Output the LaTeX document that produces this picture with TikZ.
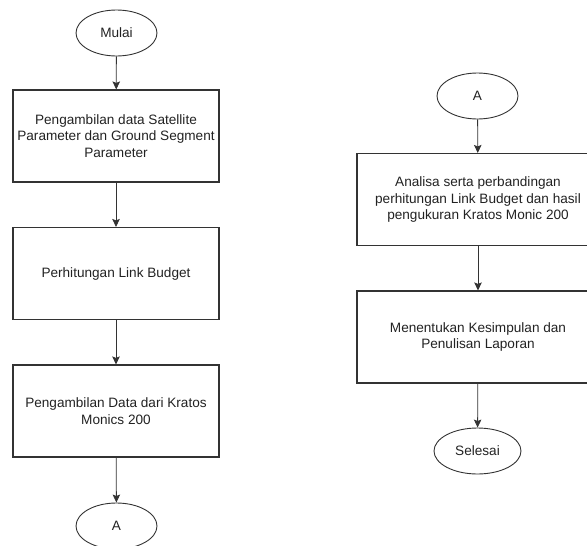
\documentclass[tikz,border=0pt]{standalone}
\usepackage{fontspec}
\setmainfont{Liberation Sans}
\usetikzlibrary{shapes.geometric,arrows.meta}
\definecolor{garis}{HTML}{333333}
\definecolor{teks}{HTML}{222222}
\tikzset{
    proses/.style={draw=garis, line width=1.1pt, rectangle, minimum width=206pt, minimum height=92pt,
        inner sep=0pt, align=center, text=teks, font=\fontsize{13.6}{16.5}\selectfont},
    terminal/.style={draw=garis, line width=0.9pt, ellipse, minimum width=81pt, minimum height=46pt,
        inner sep=0pt, text=teks, font=\fontsize{13.6}{16.5}\selectfont},
    alur/.style={draw=garis, line width=0.8pt, -{Stealth[length=8pt, width=7.5pt, inset=1.5pt]}}
}
\begin{document}
\begin{tikzpicture}[x=1pt, y=-1pt]
        \clip (0,0) rectangle (587,546);
        % ── kolom kiri ──────────────────────────
        \node[terminal] (mulai) at (116.5,33) {Mulai};
        \node[proses] (ambil) at (116,136) {Pengambilan data Satellite\\Parameter dan Ground Segment\\Parameter};
        \node[proses] (hitung) at (116,273.5) {Perhitungan Link Budget};
        \node[proses] (kratos) at (116,411) {Pengambilan Data dari Kratos\\Monics 200};
        \node[terminal] (akiri) at (116.5,526) {A};
        \draw[alur] (mulai) -- (ambil);
        \draw[alur] (ambil) -- (hitung);
        \draw[alur] (hitung) -- (kratos);
        \draw[alur] (kratos) -- (akiri);
        % ── kolom kanan ─────────────────────────
        \node[terminal] (akanan) at (477.5,96) {A};
        \node[proses, minimum width=242pt] (analisa) at (478,199.5) {Analisa serta perbandingan\\perhitungan Link Budget dan hasil\\pengukuran Kratos Monic 200};
        \node[proses, minimum width=242pt] (simpul) at (478,337) {Menentukan Kesimpulan dan\\Penulisan Laporan};
        \node[terminal, minimum width=87pt] (selesai) at (477.5,451) {Selesai};
        \draw[alur] (akanan) -- (analisa);
        \draw[alur] (analisa) -- (simpul);
        \draw[alur] (simpul) -- (selesai);
    \end{tikzpicture}
\end{document}
